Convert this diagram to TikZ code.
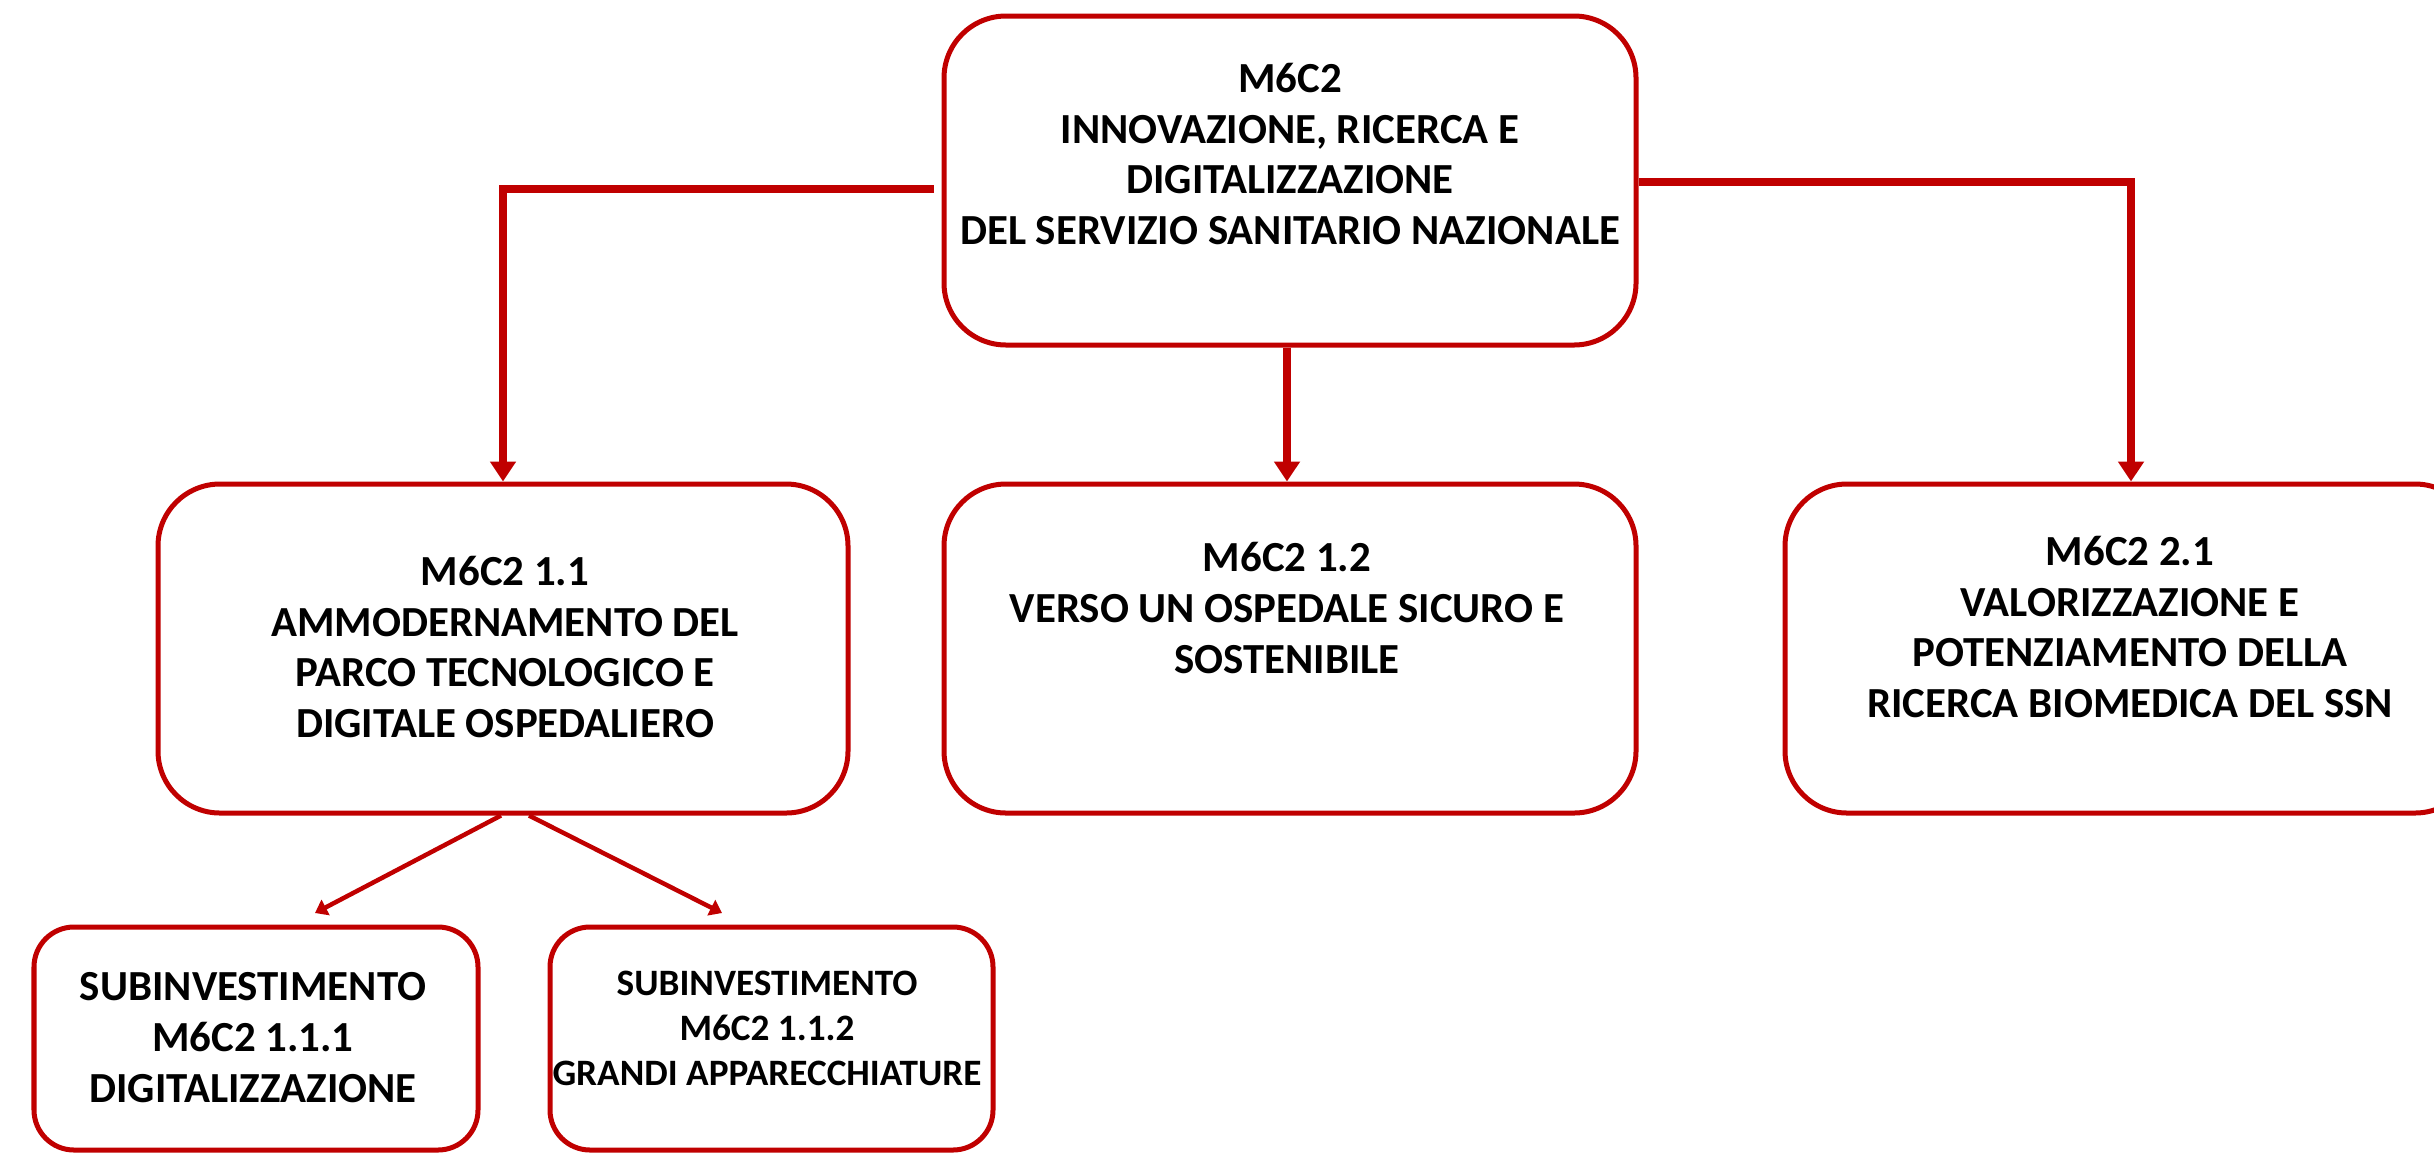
\documentclass[tikz,border=0pt]{standalone}
\usepackage{fontspec}
\setmainfont{Carlito}
\usetikzlibrary{arrows.meta}
\definecolor{dred}{RGB}{192,0,0}
\tikzset{
  box/.style={draw=dred, line width=0.05cm, rounded corners=0.62cm, fill=white, rectangle, inner sep=0pt},
  smallbox/.style={box, rounded corners=0.4cm},
  txt/.style={align=center, font=\fontsize{12.2}{14.5}\selectfont\bfseries, inner sep=0pt},
  smalltxt/.style={align=center, font=\fontsize{10.6}{12.8}\selectfont\bfseries, inner sep=0pt},
  mainarrow/.style={draw=dred, line width=0.08cm, -{Triangle[width=0.25cm,length=0.2cm]}},
  subarrow/.style={draw=dred, line width=0.045cm, -{Triangle[width=0.17cm,length=0.12cm]}}
}
\begin{document}
\begin{tikzpicture}
\useasboundingbox[fill=white] (0,0) rectangle (24.34,-11.54);
% boxes
\node[box, minimum width=6.92cm, minimum height=3.29cm] (top) at (12.90,-1.805) {};
\node[box, minimum width=6.90cm, minimum height=3.29cm] (A) at (5.03,-6.485) {};
\node[box, minimum width=6.92cm, minimum height=3.29cm] (B) at (12.90,-6.485) {};
\node[box, minimum width=6.92cm, minimum height=3.29cm] (C) at (21.31,-6.485) {};
\node[smallbox, minimum width=4.44cm, minimum height=2.23cm] (D) at (2.56,-10.385) {};
\node[smallbox, minimum width=4.43cm, minimum height=2.23cm] (E) at (7.715,-10.385) {};
% texts
\node[txt] (ttop) at (12.90,-1.54) {M6C2\\INNOVAZIONE, RICERCA E\\DIGITALIZZAZIONE\\DEL SERVIZIO SANITARIO NAZIONALE};
\node[txt] (tA) at (5.05,-6.47) {M6C2 1.1\\ AMMODERNAMENTO DEL\\PARCO TECNOLOGICO E\\DIGITALE OSPEDALIERO};
\node[txt] (tB) at (12.87,-6.08) {M6C2 1.2\\VERSO UN OSPEDALE SICURO E\\SOSTENIBILE};
\node[txt] (tC) at (21.30,-6.27) {M6C2 2.1\\VALORIZZAZIONE E\\POTENZIAMENTO DELLA\\ RICERCA BIOMEDICA DEL SSN};
\node[txt] (tD) at (2.53,-10.38) {SUBINVESTIMENTO\\M6C2 1.1.1\\ DIGITALIZZAZIONE};
\node[smalltxt] (tE) at (7.67,-10.28) {SUBINVESTIMENTO\\M6C2 1.1.2\\GRANDI APPARECCHIATURE};
% connectors
\draw[mainarrow] ([xshift=-0.08cm,yshift=-0.085cm]top.west) -| (A.north);
\draw[mainarrow] ([yshift=-0.015cm]top.east) -| (C.north);
\draw[mainarrow] ([xshift=-0.03cm]top.south) -- ([xshift=-0.03cm]B.north);
\coordinate (dtip) at (3.15,-9.13);
\coordinate (etip) at (7.22,-9.13);
\draw[subarrow] ([xshift=-0.02cm]A.south) -- (dtip);
\draw[subarrow] ([xshift=0.26cm]A.south) -- (etip);
\end{tikzpicture}
\end{document}
